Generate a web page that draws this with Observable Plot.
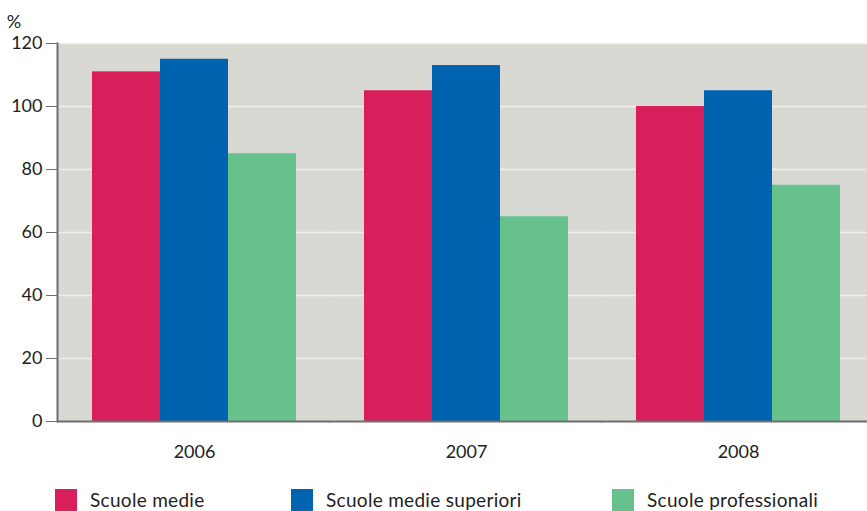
<!DOCTYPE html>
<html>
<head>
<meta charset="utf-8">
<script src="https://cdn.jsdelivr.net/npm/d3@7"></script>
<script src="https://cdn.jsdelivr.net/npm/@observablehq/plot@0.6"></script>
<style>
  body { margin: 0; background: #fff; font-family: Lato, sans-serif; }
  #chart { position: relative; width: 867px; }
  .legend { position: relative; height: 41px; width: 867px; }
  .item { position: absolute; top: 18px; display: flex; align-items: center; font-size: 19px; letter-spacing: 0.3px; color: #222; white-space: nowrap; }
  .swatch { width: 22px; height: 22px; margin-right: 13px; }
</style>
</head>
<body>
<div id="chart"></div>
<script>
// Share of students (%) by school type and year
const years = ["2006", "2007", "2008"];
const schools = ["Scuole medie", "Scuole medie superiori", "Scuole professionali"];
const medie = [111, 105, 100];
const superiori = [115, 113, 105];
const professionali = [85, 65, 75];
const colors = ["#d91e5c", "#0063b0", "#66c18d"];
const yTicks = [0, 20, 40, 60, 80, 100, 120];
const gridValues = [20, 40, 60, 80, 100, 120];

const series = [medie, superiori, professionali];
const data = years.flatMap((year, i) =>
  schools.map((school, j) => ({year, school, value: series[j][i]}))
);

// each facet's panel and rules reach half a bar-gap sideways so the grey
// area reads as one continuous panel from the y axis to the right edge
const ext = {insetLeft: -35, insetRight: -34};

const chart = Plot.plot({
  width: 867,
  height: 470,
  marginLeft: 57,
  marginRight: 0,
  marginTop: 43,
  marginBottom: 49,
  style: {fontFamily: "Lato, sans-serif", fontSize: "18px", color: "#222", background: "transparent"},
  fx: {domain: years, axis: "bottom", label: null, range: [92, 840], paddingInner: 0.25, paddingOuter: 0, tickSize: 0, tickPadding: 24},
  x: {domain: schools, padding: 0, axis: null},
  y: {domain: [0, 120], label: null, axis: null},
  color: {domain: schools, range: colors},
  marks: [
    Plot.frame({fill: "#d9d9d4", stroke: null, ...ext}),
    Plot.ruleY(gridValues, {stroke: "#efefeb", strokeWidth: 1.5, ...ext}),
    Plot.barY(data, {fx: "year", x: "school", y: "value", fill: "school"}),
    Plot.ruleY([0], {stroke: "#6f6f6f", strokeWidth: 2, ...ext}),
    Plot.frame({anchor: "left", stroke: "#6f6f6f", strokeWidth: 2, dx: -35, facetAnchor: "left"}),
    Plot.axisY(yTicks, {anchor: "left", facetAnchor: "left", dx: -35, tickSize: 11, tickPadding: 4, stroke: "#6f6f6f", fill: "#222", label: null})
  ]
});

d3.select(chart).append("text")
  .attr("x", 14).attr("y", 28)
  .attr("fill", "#222")
  .style("font-size", "18px")
  .text("%");

const root = document.getElementById("chart");
root.appendChild(chart);

const legend = document.createElement("div");
legend.className = "legend";
const lefts = [55, 291, 612];
schools.forEach((s, i) => {
  const item = document.createElement("div");
  item.className = "item";
  item.style.left = lefts[i] + "px";
  const sw = document.createElement("span");
  sw.className = "swatch";
  sw.style.background = colors[i];
  const label = document.createElement("span");
  label.textContent = s;
  item.appendChild(sw);
  item.appendChild(label);
  legend.appendChild(item);
});
root.appendChild(legend);
</script>
</body>
</html>
